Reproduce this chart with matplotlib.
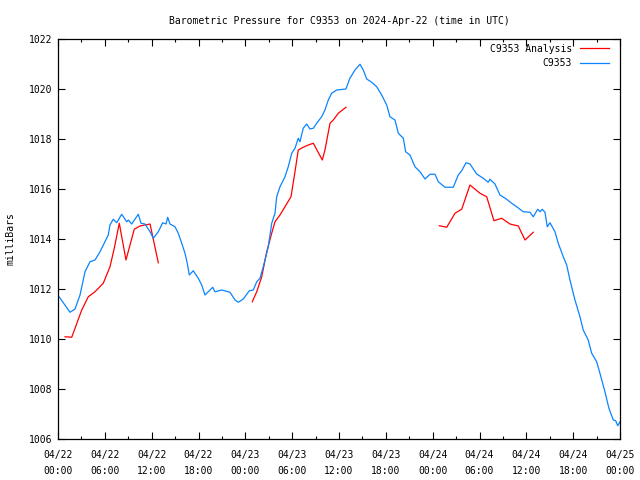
import matplotlib
matplotlib.use("Agg")
import matplotlib.pyplot as plt
from matplotlib.ticker import MultipleLocator

# hours since 2024-04-22 00:00 UTC
obs_hours = [0.0, 1.54, 2.18, 2.82, 3.46, 4.10, 4.74, 5.38, 6.02, 6.44, 6.66, 7.08, 7.52, 8.16,
             8.80, 9.01, 9.44, 10.29, 10.63, 11.15, 11.79, 12.21, 12.85, 13.41, 13.84, 14.05,
             14.35, 14.99, 15.41, 15.85, 16.27, 16.56, 16.82, 17.33, 17.97, 18.41, 18.83,
             19.25, 19.82, 20.11, 20.97, 22.03, 22.68, 23.10, 23.74, 24.51, 25.02, 25.46,
             25.88, 26.30, 26.94, 27.38, 27.80, 28.02, 28.44, 29.08, 29.50, 29.94, 30.36,
             30.78, 31.00, 31.42, 31.86, 32.28, 32.71, 33.14, 33.78, 34.20, 34.63, 35.06,
             35.70, 36.89, 37.40, 38.05, 38.69, 39.11, 39.55, 40.19, 40.83, 41.47, 42.11,
             42.53, 43.17, 43.60, 44.24, 44.54, 45.09, 45.73, 46.37, 47.02, 47.66, 48.30,
             48.72, 49.58, 50.64, 51.28, 51.72, 52.27, 52.78, 53.64, 54.48, 55.12, 55.34,
             55.98, 56.62, 57.48, 58.12, 58.76, 59.61, 60.47, 60.89, 61.45, 61.75, 62.04,
             62.39, 62.68, 63.03, 63.67, 64.09, 64.73, 65.17, 65.59, 66.23, 66.87, 67.29,
             67.93, 68.37, 69.01, 69.43, 70.07, 70.58, 71.14, 71.45, 71.71, 72.0]
obs_pressure = [1011.75, 1011.07, 1011.20, 1011.76, 1012.69, 1013.09, 1013.16, 1013.49, 1013.89,
                1014.16, 1014.56, 1014.79, 1014.65, 1014.99, 1014.69, 1014.76, 1014.60, 1014.99,
                1014.63, 1014.60, 1014.29, 1014.03, 1014.29, 1014.65, 1014.60, 1014.87, 1014.60,
                1014.49, 1014.23, 1013.83, 1013.43, 1013.03, 1012.56, 1012.73, 1012.43, 1012.16,
                1011.76, 1011.89, 1012.07, 1011.89, 1011.96, 1011.87, 1011.56, 1011.47, 1011.60,
                1011.93, 1011.96, 1012.29, 1012.43, 1012.89, 1013.69, 1014.63, 1015.03, 1015.69,
                1016.09, 1016.49, 1016.89, 1017.43, 1017.63, 1018.03, 1017.89, 1018.43, 1018.60,
                1018.40, 1018.43, 1018.63, 1018.89, 1019.16, 1019.56, 1019.83, 1019.96, 1020.00,
                1020.43, 1020.76, 1020.99, 1020.76, 1020.40, 1020.27, 1020.09, 1019.76, 1019.36,
                1018.89, 1018.76, 1018.23, 1018.03, 1017.49, 1017.36, 1016.89, 1016.69, 1016.40,
                1016.59, 1016.59, 1016.29, 1016.07, 1016.07, 1016.56, 1016.73, 1017.05, 1017.00,
                1016.60, 1016.43, 1016.27, 1016.39, 1016.20, 1015.76, 1015.59, 1015.43, 1015.29,
                1015.09, 1015.07, 1014.89, 1015.19, 1015.09, 1015.19, 1015.07, 1014.49, 1014.65,
                1014.29, 1013.83, 1013.29, 1012.96, 1012.36, 1011.56, 1010.89, 1010.36, 1009.96,
                1009.43, 1009.09, 1008.63, 1007.89, 1007.23, 1006.76, 1006.73, 1006.53, 1006.69]

ana1_hours = [0.90, 1.76, 3.04, 3.88, 4.74, 5.80, 6.66, 7.21, 7.85, 8.71, 9.77, 10.50, 11.79, 12.85]
ana1_pressure = [1010.09, 1010.07, 1011.16, 1011.69, 1011.89, 1012.23, 1012.89, 1013.63, 1014.63,
                 1013.16, 1014.39, 1014.52, 1014.60, 1013.05]
ana2_hours = [24.89, 25.46, 26.10, 26.74, 27.38, 27.80, 28.44, 29.08, 29.85, 30.36, 30.78, 31.42,
              32.07, 32.71, 33.86, 34.20, 34.85, 35.27, 35.91, 36.89]
ana2_pressure = [1011.49, 1011.89, 1012.49, 1013.49, 1014.23, 1014.69, 1014.96, 1015.29, 1015.69,
                 1016.69, 1017.56, 1017.67, 1017.76, 1017.83, 1017.16, 1017.56, 1018.63, 1018.76,
                 1019.03, 1019.27]
ana3_hours = [48.85, 49.80, 50.86, 51.72, 52.78, 54.06, 54.92, 55.85, 56.84, 57.90, 58.97, 59.83, 60.89]
ana3_pressure = [1014.53, 1014.47, 1015.03, 1015.19, 1016.16, 1015.83, 1015.69, 1014.73, 1014.83,
                 1014.60, 1014.52, 1013.96, 1014.27]

xtick_hours = list(range(0, 73, 6))
xtick_labels = ["04/22\n00:00", "04/22\n06:00", "04/22\n12:00", "04/22\n18:00",
                "04/23\n00:00", "04/23\n06:00", "04/23\n12:00", "04/23\n18:00",
                "04/24\n00:00", "04/24\n06:00", "04/24\n12:00", "04/24\n18:00",
                "04/25\n00:00"]
ytick_values = list(range(1006, 1023, 2))

plt.rcParams['font.family'] = ['DejaVu Sans Mono']
FS = 7

fig = plt.figure(figsize=(6.4, 4.8), dpi=100)
ax = fig.add_axes([58/640, 1-439/480, (620-58)/640, (439-39)/480])

lw = 0.9
red, = ax.plot(ana1_hours, ana1_pressure, color='#ff0000', lw=lw, label='C9353 Analysis')
ax.plot(ana2_hours, ana2_pressure, color='#ff0000', lw=lw)
ax.plot(ana3_hours, ana3_pressure, color='#ff0000', lw=lw)
blue, = ax.plot(obs_hours, obs_pressure, color='#0a84ff', lw=lw, label='C9353')

ax.set_xlim(0, 72)
ax.set_ylim(1006, 1022)
ax.set_xticks(xtick_hours)
ax.set_xticklabels(xtick_labels, fontsize=FS, linespacing=1.7)
ax.set_yticks(ytick_values)
ax.set_yticklabels([str(v) for v in ytick_values], fontsize=FS)
ax.xaxis.set_minor_locator(MultipleLocator(3))
ax.tick_params(axis='both', which='major', direction='in', length=5, width=0.8,
               top=True, right=True)
ax.tick_params(axis='x', which='major', pad=8)
ax.tick_params(axis='y', which='major', pad=4)
ax.tick_params(axis='x', which='minor', direction='in', length=2.5, width=0.8, top=True)
for s in ax.spines.values():
    s.set_linewidth(0.9)

ax.set_ylabel('milliBars', fontsize=FS, labelpad=10)
ax.set_title('Barometric Pressure for C9353 on 2024-Apr-22 (time in UTC)', fontsize=FS, pad=11)

leg = ax.legend(handles=[red, blue], loc='upper right', bbox_to_anchor=(0.991, 1.003),
                frameon=False, markerfirst=False, fontsize=FS, handlelength=3.0,
                handletextpad=0.8, labelspacing=0.5, borderaxespad=0.2)

fig.savefig('out.png', dpi=100)
